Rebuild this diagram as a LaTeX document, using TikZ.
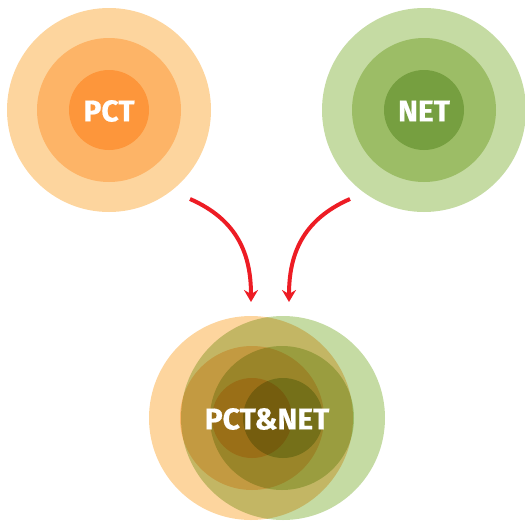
\documentclass[tikz,border=0pt]{standalone}
\usepackage{fontspec}
\setmainfont{Fira Sans}
\newfontfamily\labelfont{Fira Sans}[BoldFeatures={FakeBold=0.6}]
\usetikzlibrary{arrows.meta}
\definecolor{orA}{RGB}{253,213,158}
\definecolor{orB}{RGB}{253,180,103}
\definecolor{orC}{RGB}{253,150,59}
\definecolor{grA}{RGB}{197,219,163}
\definecolor{grB}{RGB}{156,189,102}
\definecolor{grC}{RGB}{118,159,64}
\definecolor{arrowred}{RGB}{237,28,36}
\tikzset{
  ring/.style={circle, inner sep=0pt, outer sep=0pt, draw=none},
  outerring/.style={ring, minimum size=204pt},
  midring/.style={ring, minimum size=144pt},
  innerring/.style={ring, minimum size=80pt},
  label/.style={text=white, font=\labelfont\bfseries\fontsize{30}{32}\selectfont, inner sep=0pt},
  flow/.style={draw=arrowred, line width=4pt, -{Stealth[length=12pt,width=14pt,inset=4pt]}}
}
\begin{document}
\begin{tikzpicture}[x=1pt,y=-1pt]
\useasboundingbox (0,0) rectangle (525,520);
% top left PCT
\node[outerring, fill=orA] (pctA) at (109,110) {};
\node[midring, fill=orB] (pctB) at (109,110) {};
\node[innerring, fill=orC] (pctC) at (109,110) {};
\node[label] (pcttext) at (109,111) {PCT};
% top right NET
\node[outerring, fill=grA] (netA) at (424,110) {};
\node[midring, fill=grB] (netB) at (424,110) {};
\node[innerring, fill=grC] (netC) at (424,110) {};
\node[label] (nettext) at (424,111) {NET};
% bottom combined
\node[outerring, fill=orA] (bpA) at (251,418) {};
\node[midring, fill=orB] (bpB) at (252,418) {};
\node[innerring, fill=orC] (bpC) at (252,418) {};
\begin{scope}[blend mode=multiply]
\begin{scope}[transparency group]
\node[outerring, fill=grA] (bnA) at (283,418) {};
\node[midring, fill=grB] (bnB) at (282,418) {};
\node[innerring, fill=grC] (bnC) at (283,418) {};
\end{scope}
\end{scope}
\node[label] (bothtext) at (267,419) {PCT\&NET};
% arrows
\coordinate (l1) at (190,199);
\coordinate (l2) at (251,302);
\coordinate (r1) at (350,199);
\coordinate (r2) at (289,302);
\draw[flow] (l1) .. controls (238,220) and (251,255) .. (l2);
\draw[flow] (r1) .. controls (302,220) and (289,255) .. (r2);
\end{tikzpicture}
\end{document}
